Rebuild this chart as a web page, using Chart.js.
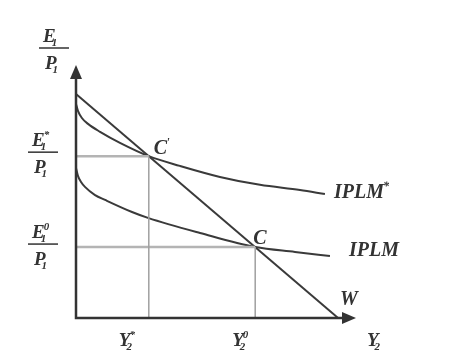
<!DOCTYPE html>
<html lang="en">
<head>
    <meta charset="UTF-8">
    <title>IPLM and W</title>
    <script src="https://cdn.jsdelivr.net/npm/chart.js"></script>
    <style>
        body { margin: 0; background: #fff; }
        #wrap { width: 453px; height: 364px; }
    </style>
</head>
<body>
    <div id="wrap"><canvas id="iplmChart" width="453" height="364"></canvas></div>
    <script>
        // curves (x = Y2, y = E1/P1)
        var iplmStarX = [0, 0.7, 2.1, 4.3, 8.6, 15.7, 26, 37.1, 51.4, 65.7, 80, 88.9];
        var iplmStarY = [83.6, 80.9, 78.1, 75.8, 72.7, 68.4, 63.2, 59.4, 55.1, 52.0, 50.0, 48.4];
        var iplmX = [0, 0.7, 1.8, 3.2, 6.8, 10.4, 20, 25.7, 44.3, 64, 78.2, 90.7];
        var iplmY = [58.6, 55.5, 53.1, 51.2, 48.0, 46.1, 41.4, 39.1, 33.2, 27.7, 25.8, 24.2];
        var wX = [0, 93.6];
        var wY = [87.5, 0];

        // equilibrium points C' and C
        var eqStar = [26, 63.2];
        var eqZero = [64, 27.7];

        var xMax = 100, yMax = 98.8;
        var ink = '#333333';

        function pts(xs, ys) {
            return xs.map(function(v, i) { return { x: v, y: ys[i] }; });
        }

        // symbol with optional subscript / superscript, left aligned at x
        function sym(ctx, x, y, base, sub, sup, size) {
            ctx.font = "bold italic " + size + "px 'Liberation Serif'";
            ctx.fillText(base, x, y);
            var w = ctx.measureText(base).width;
            ctx.font = "bold italic " + Math.round(size * 0.6) + "px 'Liberation Serif'";
            if (sub) ctx.fillText(sub, x + w - 4, y + 4);
            if (sup) ctx.fillText(sup, x + w - 1, y - size * 0.42);
            return w;
        }

        function frac(ctx, cx, barY, sup) {
            ctx.fillRect(cx - 15, barY - 0.75, 30, 1.5);
            sym(ctx, cx - 11, barY - 6, 'E', '1', sup, 19);
            sym(ctx, cx - 9, barY + 21, 'P', '1', null, 19);
        }

        var axesPlugin = {
            id: 'axes',
            afterDatasetsDraw: function(chart) {
                var ctx = chart.ctx, xs = chart.scales.x, ys = chart.scales.y;
                var x0 = xs.getPixelForValue(0), y0 = ys.getPixelForValue(0);
                var xEnd = xs.getPixelForValue(xMax), yEnd = ys.getPixelForValue(yMax);
                ctx.save();
                ctx.strokeStyle = ink;
                ctx.fillStyle = ink;
                ctx.lineWidth = 2.5;
                ctx.beginPath();
                ctx.moveTo(x0, yEnd + 10);
                ctx.lineTo(x0, y0);
                ctx.lineTo(xEnd - 10, y0);
                ctx.stroke();
                // arrow heads
                ctx.beginPath();
                ctx.moveTo(x0, yEnd);
                ctx.lineTo(x0 - 6, yEnd + 14);
                ctx.lineTo(x0 + 6, yEnd + 14);
                ctx.closePath();
                ctx.fill();
                ctx.beginPath();
                ctx.moveTo(xEnd, y0);
                ctx.lineTo(xEnd - 14, y0 - 6);
                ctx.lineTo(xEnd - 14, y0 + 6);
                ctx.closePath();
                ctx.fill();

                ctx.textBaseline = 'alphabetic';
                // axis titles
                frac(ctx, x0 - 22, yEnd - 17, null);
                sym(ctx, xEnd + 11, y0 + 28, 'Y', '2', null, 19);

                var csx = xs.getPixelForValue(eqStar[0]), csy = ys.getPixelForValue(eqStar[1]);
                var czx = xs.getPixelForValue(eqZero[0]), czy = ys.getPixelForValue(eqZero[1]);
                sym(ctx, csx + 5, csy - 2, 'C', null, "'", 20);
                sym(ctx, czx - 2, czy - 3, 'C', null, null, 20);

                // guide labels
                frac(ctx, x0 - 33, csy - 4, '*');
                frac(ctx, x0 - 33, czy - 3, '0');
                sym(ctx, csx - 30, y0 + 28, 'Y', '2', '*', 19);
                sym(ctx, czx - 23, y0 + 28, 'Y', '2', '0', 19);

                // curve names
                var n = iplmStarX.length - 1;
                sym(ctx, xs.getPixelForValue(iplmStarX[n]) + 9, ys.getPixelForValue(iplmStarY[n]) + 4, 'IPLM', null, '*', 20);
                var m = iplmX.length - 1;
                sym(ctx, xs.getPixelForValue(iplmX[m]) + 19, ys.getPixelForValue(iplmY[m]), 'IPLM', null, null, 20);
                sym(ctx, xs.getPixelForValue(wX[1]) + 2, ys.getPixelForValue(wY[1]) - 13, 'W', null, null, 20);
                ctx.restore();
            }
        };

        var curve = { showLine: true, pointRadius: 0, borderColor: '#3a3a3a', borderWidth: 2, fill: false,
                      cubicInterpolationMode: 'monotone', clip: false };
        var guideH = { showLine: true, pointRadius: 0, borderColor: '#b4b4b4', borderWidth: 2.5, clip: false };
        var guideV = { showLine: true, pointRadius: 0, borderColor: '#a0a0a0', borderWidth: 1.5, clip: false };

        var ctx = document.getElementById('iplmChart').getContext('2d');
        var iplmChart = new Chart(ctx, {
            type: 'scatter',
            data: {
                datasets: [
                    Object.assign({ data: pts([0, eqStar[0]], [eqStar[1], eqStar[1]]) }, guideH),
                    Object.assign({ data: pts([eqStar[0], eqStar[0]], [eqStar[1], 0]) }, guideV),
                    Object.assign({ data: pts([0, eqZero[0]], [eqZero[1], eqZero[1]]) }, guideH),
                    Object.assign({ data: pts([eqZero[0], eqZero[0]], [eqZero[1], 0]) }, guideV),
                    Object.assign({ data: pts(wX, wY) }, curve),
                    Object.assign({ data: pts(iplmStarX, iplmStarY) }, curve),
                    Object.assign({ data: pts(iplmX, iplmY) }, curve)
                ]
            },
            options: {
                responsive: false,
                animation: false,
                layout: { padding: { left: 76, right: 97, top: 65, bottom: 46 } },
                plugins: { legend: { display: false }, tooltip: { enabled: false } },
                scales: {
                    x: { type: 'linear', min: 0, max: xMax, display: false },
                    y: { type: 'linear', min: 0, max: yMax, display: false }
                }
            },
            plugins: [axesPlugin]
        });
    </script>
</body>
</html>
